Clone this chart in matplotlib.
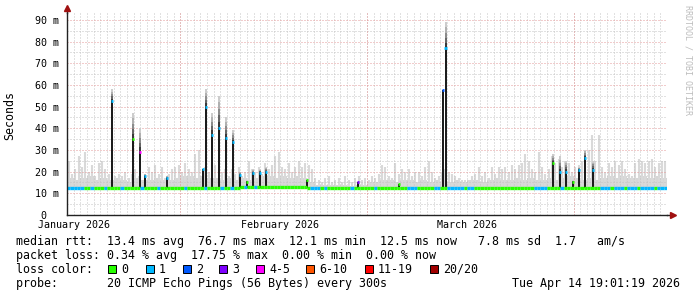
import numpy as np
import matplotlib
matplotlib.use('Agg')
import matplotlib.pyplot as plt
from matplotlib.patches import Rectangle
from datetime import date

plt.rcParams['font.family'] = ['DejaVu Sans Mono']

# dias contados desde el 15 de enero 2026
inicio = date(2026, 1, 15)
dias_total = 90

# humo: tope de los pings cada medio dia (ms)
humo_top = [25, 19, 21, 27, 22, 29, 20, 23, 18, 24, 25, 21, 19, 20, 18,
            19, 18, 20, 17, 19, 21, 18, 16, 19, 22, 20, 23, 19, 22, 17,
            19, 21, 22, 23, 20, 24, 21, 20, 28, 30, 18, 22, 20, 19, 23,
            22, 20, 21, 18, 21, 19, 22, 18, 20, 25, 21, 20, 22, 19, 24,
            21, 23, 27, 29, 22, 21, 24, 20, 22, 25, 22, 24, 23, 21, 17,
            16, 15, 17, 18, 15, 16, 17, 15, 18, 16, 15, 17, 18, 16, 17,
            16, 18, 17, 19, 23, 22, 18, 17, 24, 19, 21, 20, 21, 18, 20,
            20, 18, 22, 25, 20, 17, 18, 20, 21, 20, 19, 18, 17, 16, 16,
            16, 18, 19, 22, 18, 20, 17, 22, 19, 22, 21, 22, 20, 23, 21,
            23, 24, 28, 25, 21, 20, 29, 22, 19, 21, 27, 24, 26, 22, 25,
            24, 20, 22, 23, 25, 24, 30, 37, 25, 37, 22, 20, 24, 22, 25,
            23, 25, 21, 19, 18, 24, 26, 25, 24, 25, 26, 22, 24, 25, 25]

# banda densa del humo, un valor por dia (ms)
banda_top = [17, 16, 17, 18, 16, 17, 16, 17, 16, 15, 17, 16, 16, 17, 16, 16, 17, 18,
             18, 17, 18, 17, 17, 16, 17, 16, 17,
             16, 17, 18, 18, 17, 18, 17, 18, 17,
             15, 14, 14, 14, 14, 14, 13.5, 14,
             14, 15, 15, 16, 16, 15, 16, 16, 15, 16, 15, 16, 15,
             15, 16, 15, 16, 16, 15, 16, 17, 16, 16, 17, 16, 17, 16,
             16, 17, 16, 17, 18, 17, 16, 17, 16, 17, 18, 17, 18, 17, 17, 18, 17, 18, 17]

# mediana diaria (ms)
mediana_dia = [12.3, 12.3, 12.4, 12.3, 12.3, 12.4, 12.3, 12.3, 12.4, 12.4,
               12.3, 12.4, 12.4, 12.3, 12.4, 12.4, 12.5, 12.4, 12.5, 12.5,
               12.4, 12.5, 12.6, 12.5, 12.6, 12.6, 12.7, 12.7, 12.8, 12.8,
               12.8, 12.8, 12.7, 12.8, 12.7, 12.7, 12.6, 12.6, 12.5, 12.6,
               12.5, 12.5, 12.5, 12.6, 12.6, 12.5, 12.6, 12.5, 12.5, 12.6,
               12.6, 12.5, 12.6, 12.5, 12.5, 12.5, 12.4, 12.4, 12.5, 12.5,
               12.4, 12.5, 12.5, 12.4, 12.5, 12.5, 12.4, 12.4, 12.5, 12.4,
               12.4, 12.5, 12.4, 12.4, 12.5, 12.4, 12.4, 12.5, 12.5, 12.4,
               12.4, 12.3, 12.4, 12.4, 12.3, 12.4, 12.3, 12.4, 12.3, 12.4]

# perdida cada medio dia (indice del color)
perdida = [1, 1, 1, 1, 1, 0, 0, 1, 0, 0, 0, 1, 0, 0, 0,
           0, 1, 0, 0, 0, 0, 0, 1, 0, 0, 0, 0, 1, 0, 0,
           0, 0, 0, 0, 0, 1, 0, 0, 0, 0, 0, 1, 0, 0, 0,
           0, 1, 0, 0, 1, 0, 0, 0, 1, 0, 0, 1, 0, 0, 0,
           0, 0, 0, 0, 0, 0, 0, 0, 0, 0, 0, 0, 0, 1, 1,
           1, 0, 1, 0, 0, 0, 0, 0, 0, 0, 1, 0, 0, 0, 0,
           0, 0, 1, 0, 0, 0, 0, 0, 0, 0, 0, 0, 1, 1, 1,
           0, 0, 0, 0, 0, 1, 1, 0, 0, 1, 1, 1, 1, 1, 0,
           1, 1, 0, 0, 0, 0, 0, 0, 0, 0, 0, 0, 0, 0, 0,
           0, 0, 0, 0, 0, 1, 1, 1, 1, 0, 0, 0, 0, 1, 0,
           0, 0, 0, 0, 0, 0, 0, 0, 0, 0, 1, 1, 1, 0, 1,
           1, 1, 0, 1, 1, 1, 0, 1, 1, 1, 1, 0, 1, 1, 1]

# picos: dia, mediana, tope del humo, perdida
pico_dia = [6.75, 9.9, 10.95, 11.7, 15.0, 20.4, 20.85, 21.75, 22.8, 23.85, 24.9,
            25.95, 27.0, 27.9, 28.95, 29.85, 36.0, 43.65, 49.8, 56.4, 56.8,
            72.9, 73.95, 74.85, 75.9, 76.8, 77.7, 78.9]
pico_med = [52.5, 35, 29, 18, 17, 21, 50, 37, 40, 35.5, 33.5,
            18.5, 15.4, 19.4, 19.5, 20, 16, 15, 14.3, 57.7, 77,
            24, 20, 20, 15.4, 20.8, 26.5, 20.8]
pico_top = [58, 47, 40, 19, 18, 21, 58, 47, 55, 45, 39,
            20, 16, 21, 21, 22, 16, 15, 14.3, 57.7, 89,
            28, 27, 25, 16, 22, 30, 25]
pico_perdida = [1, 0, 4, 1, 1, 1, 1, 1, 1, 1, 1,
                1, 0, 1, 1, 1, 0, 3, 0, 2, 1,
                0, 1, 1, 0, 1, 1, 1]

colores_perdida = ['#26ff00', '#00b8ff', '#0059ff', '#7e00ff',
                   '#ff00ff', '#ff5500', '#ff0000', '#a10000']
etiquetas_perdida = ['0', '1', '2', '3', '4-5', '6-10', '11-19', '20/20']

y_ticks = [0, 10, 20, 30, 40, 50, 60, 70, 80, 90]
y_etiquetas = ['0  ', '10 m', '20 m', '30 m', '40 m', '50 m', '60 m', '70 m', '80 m', '90 m']
meses = ['January 2026', 'February 2026', 'March 2026']
meses_num = [1, 2, 3]

W, H = 697, 297
fig = plt.figure(figsize=(W / 100, H / 100), dpi=100)
ax = fig.add_axes([67 / W, 82 / H, 600 / W, 202 / H])
ax.set_xlim(0, dias_total)
ax.set_ylim(0, 93.2)

# Rejilla
punteado = (0, (1, 2))
for d in range(1, dias_total):
    ax.axvline(d, color='#c4c4c4', lw=0.72, ls=punteado, zorder=3)
for y in range(5, 95, 10):
    ax.axhline(y, color='#c4c4c4', lw=0.72, ls=punteado, zorder=3)
for y in range(10, 95, 10):
    ax.axhline(y, color='#e59a9a', lw=0.72, ls=punteado, zorder=3)
inicio_mes = [(date(2026, m, 1) - inicio).days for m in (2, 3, 4)]
for d in inicio_mes:
    ax.axvline(d, color='#e59a9a', lw=0.72, ls=punteado, zorder=3)

# Humo
t_medio = np.arange(len(humo_top)) * 0.5 + 0.25
med_medio = np.repeat(mediana_dia, 2)
bordes = np.arange(len(banda_top) + 1)
ax.fill_between(bordes, 12.0, np.append(banda_top, banda_top[-1]), step='post',
                color='#d6d6d6', lw=0, zorder=2)
ax.vlines(t_medio, med_medio, humo_top, color='#d9d9d9', lw=1.5, zorder=2)

# Picos
pico_dia = np.array(pico_dia)
pico_med = np.array(pico_med)
pico_top = np.array(pico_top)
base = 12.3
ax.bar(pico_dia, pico_med - base, bottom=base, width=0.33, color='#1c1c1c', zorder=4)
grises = ['#3a3a3a', '#666666', '#8c8c8c', '#b0b0b0', '#cccccc']
for i in range(len(pico_dia)):
    if pico_top[i] > pico_med[i]:
        niveles = np.linspace(pico_med[i], pico_top[i], len(grises) + 1)
        for k in range(len(grises)):
            ax.bar(pico_dia[i], niveles[k + 1] - niveles[k], bottom=niveles[k],
                   width=0.25, color=grises[k], zorder=4)

# Mediana coloreada por perdida (un trozo por cada medio dia)
for i in range(len(perdida)):
    ax.plot([t_medio[i] - 0.25, t_medio[i] + 0.25], [med_medio[i], med_medio[i]],
            color=colores_perdida[perdida[i]], lw=2.4, solid_capstyle='butt', zorder=5)
for i in range(len(pico_dia)):
    ax.plot([pico_dia[i] - 0.2, pico_dia[i] + 0.2], [pico_med[i], pico_med[i]],
            color=colores_perdida[pico_perdida[i]], lw=2.0, solid_capstyle='butt', zorder=6)

# Ejes
for s in ['top', 'right']:
    ax.spines[s].set_visible(False)
for s in ['left', 'bottom']:
    ax.spines[s].set_color('#222222')
    ax.spines[s].set_linewidth(1.0)
    ax.spines[s].set_zorder(7)
ax.plot([1.0, 1.0 + 4 / 600], [0, 0], color='#222222', lw=1.0,
        transform=ax.transAxes, clip_on=False, zorder=7)
ax.plot([1.0 + 6 / 600], [0], marker='>', ms=4, color='#a01010',
        transform=ax.transAxes, clip_on=False, zorder=8)
ax.plot([0, 0], [1.0, 1.0 + 3 / 202], color='#222222', lw=1.0,
        transform=ax.transAxes, clip_on=False, zorder=7)
ax.plot([0], [1.0 + 5 / 202], marker='^', ms=4, color='#a01010',
        transform=ax.transAxes, clip_on=False, zorder=8)

ax.set_yticks(y_ticks)
ax.set_yticklabels(y_etiquetas, fontsize=7.2)
pos_meses = [(date(2026, m, 16) - inicio).days for m in meses_num]
ax.set_xticks(pos_meses)
ax.set_xticklabels(meses, fontsize=7.2)
ax.tick_params(length=0)
ax.tick_params(axis='y', pad=5.5)
ax.tick_params(axis='x', pad=3.5)

fig.text(10 / W, 1 - 115 / H, 'Seconds', rotation=90, ha='center', va='center', fontsize=8.4)
fig.text(688 / W, 1 - 5 / H, 'RRDTOOL / TOBI OETIKER', rotation=270, ha='center',
         va='top', fontsize=6, color='#bdbdbd')

# Leyenda
linea1 = 'median rtt:  13.4 ms avg  76.7 ms max  12.1 ms min  12.5 ms now   7.8 ms sd  1.7   am/s'
linea2 = 'packet loss: 0.34 % avg  17.75 % max  0.00 % min  0.00 % now'
linea4 = 'probe:       20 ICMP Echo Pings (56 Bytes) every 300s'
fig.text(16 / W, 1 - 245 / H, linea1, fontsize=8.4, va='baseline')
fig.text(16 / W, 1 - 259 / H, linea2, fontsize=8.4, va='baseline')
fig.text(16 / W, 1 - 273 / H, 'loss color:', fontsize=8.4, va='baseline')
fig.text(16 / W, 1 - 287 / H, linea4, fontsize=8.4, va='baseline')
fig.text(680 / W, 1 - 287 / H, 'Tue Apr 14 19:01:19 2026', fontsize=8.4, va='baseline', ha='right')

caja_x = [108, 146, 183, 219, 256, 306, 365, 430]
for i in range(len(caja_x)):
    fig.add_artist(Rectangle((caja_x[i] / W, 1 - 273 / H), 8 / W, 8 / H,
                             transform=fig.transFigure, facecolor=colores_perdida[i],
                             edgecolor='black', lw=0.7))
    fig.text((caja_x[i] + 13) / W, 1 - 273 / H, etiquetas_perdida[i], fontsize=8.4, va='baseline')

fig.savefig('out.png', dpi=100)
